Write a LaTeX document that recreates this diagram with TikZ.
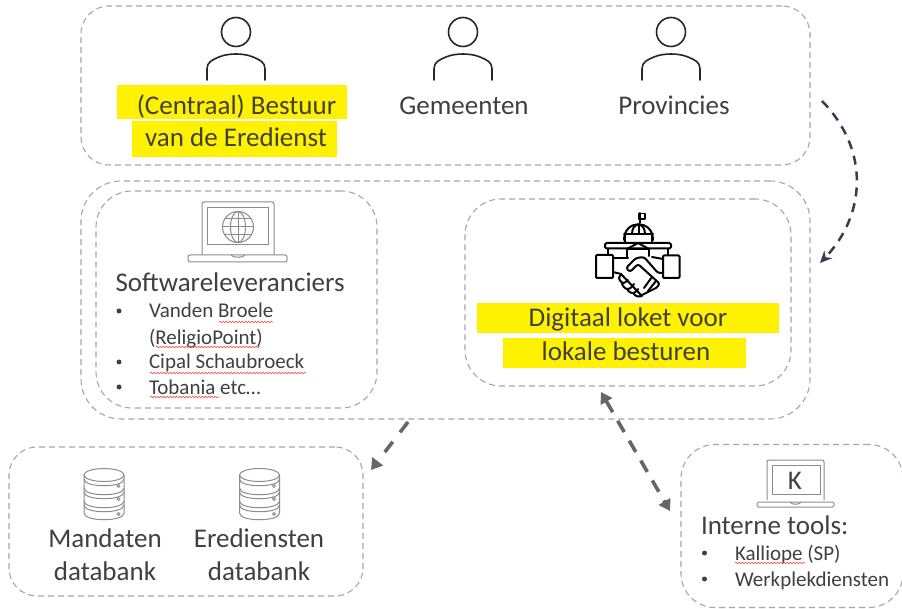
\documentclass[tikz,border=0pt]{standalone}
\usepackage{fontspec}
\setmainfont{Carlito}
\usetikzlibrary{arrows.meta,decorations.pathmorphing,positioning}
\definecolor{txt}{HTML}{404040}
\definecolor{boxc}{HTML}{A6A6A6}
\definecolor{hl}{HTML}{FFF200}
\definecolor{arr}{HTML}{666666}
\definecolor{navy}{HTML}{3B3A55}
\tikzset{
  x=1pt,y=-1pt,
  every node/.style={inner sep=0pt,outer sep=0pt,text=txt},
  group/.style={draw=boxc,dashed,dash pattern=on 6pt off 4pt,line width=1.1pt},
  big/.style={font=\fontsize{27}{27}\selectfont,anchor=base},
  bigl/.style={font=\fontsize{27}{27}\selectfont,anchor=base west},
  small/.style={font=\fontsize{21}{21}\selectfont,anchor=base west},
  bul/.style={fill=txt,circle,minimum size=5pt},
  wavy/.style={draw=red!75!white,line width=.55pt,decorate,decoration={snake,amplitude=.8pt,segment length=3.2pt}},
  hlbar/.style={fill=hl,draw=none},
  person/.style={draw=black!85,line width=1.6pt,line cap=round},
  thinicon/.style={draw=black!45,line width=1pt},
  shake/.style={draw=black,line width=2pt,line join=round,line cap=round},
  flow/.style={draw=arr,line width=3.6pt,dash pattern=on 13pt off 10pt},
}
\newcommand{\personicon}[1]{%
  \draw[person] (#1,32) circle (14.5);
  \draw[person] (#1-29,80) -- (#1-29,69) .. controls (#1-29,62) and (#1-24,60) .. (#1-17,57) .. controls (#1-8,53) and (#1+8,53) .. (#1+17,57) .. controls (#1+24,60) and (#1+29,62) .. (#1+29,69) -- (#1+29,80);
}
\newcommand{\dbicon}[1]{%
  \begin{scope}[thinicon]
  \draw (#1-20,475) -- (#1-20,513) .. controls (#1-20,522) and (#1+20,522) .. (#1+20,513) -- (#1+20,475);
  \draw (#1,475) ellipse (20 and 6.5);
  \draw (#1-20,479) .. controls (#1-20,488) and (#1+20,488) .. (#1+20,479);
  \draw (#1-20,488) .. controls (#1-20,497) and (#1+20,497) .. (#1+20,488);
  \draw (#1-20,492) .. controls (#1-20,501) and (#1+20,501) .. (#1+20,492);
  \draw (#1-20,501) .. controls (#1-20,510) and (#1+20,510) .. (#1+20,501);
  \draw (#1-20,505) .. controls (#1-20,514) and (#1+20,514) .. (#1+20,505);
  \draw (#1+14.5,486) circle (1.5);
  \draw (#1+14.5,499) circle (1.5);
  \draw (#1+14.5,514) circle (1.5);
  \end{scope}
}
\begin{document}
\begin{tikzpicture}
\useasboundingbox (0,0) rectangle (902,609);
\fill[white] (0,0) rectangle (902,609);

% group boxes
\node[group,rounded corners=28pt,minimum width=729pt,minimum height=159pt] (top) at (445.5,85.5) {};
\node[group,rounded corners=40pt,minimum width=729pt,minimum height=238pt] (mid) at (445.5,300) {};
\node[group,rounded corners=36pt,minimum width=281pt,minimum height=217pt] (soft) at (236.5,299.5) {};
\node[group,rounded corners=36pt,minimum width=326pt,minimum height=187pt] (loket) at (628,292.5) {};
\node[group,rounded corners=28pt,minimum width=354pt,minimum height=149pt] (db) at (186,521.5) {};
\begin{scope}
\clip (0,0) rectangle (902,609);
\node[group,rounded corners=34pt,minimum width=222pt,minimum height=163pt] (tools) at (792,526) {};
\end{scope}

% highlights
\fill[hlbar] (117,85) rectangle (347,119);
\fill[hlbar] (132,121) rectangle (337,157);
\fill[hlbar] (477,303) rectangle (779,333);
\fill[hlbar] (503,338) rectangle (746,368);

% persons
\personicon{236}
\personicon{463}
\personicon{671}

% top labels
\node[big] (bestuur) at (236.5,115) {(Centraal) Bestuur};
\node[big] (eredienst) at (236,147) {van de Eredienst};
\node[big] (gemeenten) at (464,115) {Gemeenten};
\node[big] (provincies) at (674,115) {Provincies};

% globe laptop
\begin{scope}[thinicon]
\draw[rounded corners=2pt] (202,255) -- (202,202) -- (274,202) -- (274,255);
\draw (207.5,208) rectangle (268,245);
\draw[rounded corners=2pt] (188,255) rectangle (287,262);
\draw (231,255) .. controls (232,258) and (244,258) .. (245,255);
\draw (238,227) circle (15.5);
\draw (238,227) ellipse (7.5 and 15.5);
\draw (238,211.5) -- (238,242.5);
\draw (222.5,227) -- (253.5,227);
\draw (225,219) -- (251,219);
\draw (225,235) -- (251,235);
\end{scope}

% software text
\node[bigl] (sw) at (115.5,292) {Softwareleveranciers};
\node[bul] (b1) at (119,311) {};
\node[bul] (b2) at (119,362) {};
\node[bul] (b3) at (119,387) {};
\node[small] (t1) at (149,318) {Vanden Broele};
\node[small] (t1b) at (149,345) {(ReligioPoint)};
\node[small] (t2) at (149,369) {Cipal Schaubroeck};
\node[small] (t3) at (149,394) {Tobania etc…};
\draw[wavy] (219,322) -- (273,322);
\draw[wavy] (156,347) -- (260,347);
\draw[wavy] (150,373) -- (306,373);
\draw[wavy] (150,397) -- (219,397);

% handshake / building icon
\begin{scope}[shake]
\draw (640,223) -- (640,213);
\draw[line width=1.6pt] (638.5,213.5) rectangle (645,219);
\draw (624,240) .. controls (624,219) and (653,219) .. (653,240);
\draw (624,234) -- (653,234);
\draw (632,234) .. controls (632,228) and (635,225) .. (638,224.5);
\draw (645,234) .. controls (645,228) and (642,225) .. (639,224.5);
\draw (638.5,224.5) -- (638.5,234);
\draw (625,234) -- (625,243);
\draw (652,234) -- (652,243);
\draw[rounded corners=1.5pt] (605,243) rectangle (671,248.5);
\draw (627,249) -- (638,243) -- (649,249);
\draw (627,249) -- (649,249);
\draw (627,249) -- (627,258);
\draw (649,249) -- (649,256);
\draw (608,249) -- (608,255);
\draw (668,249) -- (668,255);
\draw[rounded corners=1pt] (596,255) rectangle (613,278);
\draw[rounded corners=1pt] (663,255.5) rectangle (679.5,278);
\draw (613,258) -- (628,258);
\draw (652,257) -- (663,259);
% upper hand
\draw[rounded corners=2.5pt] (663,273) -- (658,273) -- (644,257) -- (636,258) -- (626,268) -- (630,272) -- (638,264) -- (660,284) -- (656,288);
\draw (656,288) -- (640,296);
\draw (652,277) -- (644,288);
\draw (656,281) -- (648,291);
% lower hand
\draw (613,272) -- (621,274) -- (641,295);
\draw[rounded corners=2.5pt] (621,275) -- (618,278) -- (623,284) -- (628,280);
\draw[rounded corners=2.5pt] (622,284) -- (625,289) -- (630,289) -- (634,284);
\draw[rounded corners=2.5pt] (627,289) -- (630,293) -- (635,293) -- (638,289);
\draw[rounded corners=2.5pt] (633,293) -- (637,297) -- (642,296);
\end{scope}

\node[big] (dig1) at (628,326.5) {Digitaal loket voor};
\node[big] (dig2) at (626,360) {lokale besturen};

% databases
\dbicon{104}
\dbicon{259.5}
\node[big] (m1) at (105,547.5) {Mandaten};
\node[big] (m2) at (105,580.5) {databank};
\node[big] (e1) at (259,547.5) {Erediensten};
\node[big] (e2) at (259,580.5) {databank};

% K laptop
\begin{scope}[thinicon]
\draw[rounded corners=2pt] (767,500) -- (767,460) -- (824,460) -- (824,500);
\draw (772,465) rectangle (820,494);
\draw[rounded corners=1.5pt] (757,502) rectangle (834,507);
\draw (790,502) .. controls (791,505) and (800,505) .. (801,502);
\end{scope}
\node[font=\fontsize{27}{27}\selectfont] (k) at (795,481) {K};
\node[bigl] (it) at (701,534) {Interne tools:};
\node[bul] (b4) at (704.5,553) {};
\node[bul] (b5) at (704.5,579) {};
\node[small] (t4) at (735,560) {Kalliope (SP)};
\node[small] (t5) at (735,586) {Werkplekdiensten};
\draw[wavy] (735,563) -- (805,563);

% connectors
\coordinate (c1) at (822,101);
\coordinate (c2) at (820,263);
\draw[navy,line width=2.5pt,dash pattern=on 9pt off 7pt,-{Stealth[length=12pt,width=11pt,inset=4pt]}] (c1) .. controls (870,150) and (866,215) .. (c2);
\coordinate (d1) at (408,422);
\coordinate (d2) at (371,470);
\draw[flow,dash pattern=on 13pt off 12pt,-{Triangle[length=11pt,width=13pt]}] (d1) -- (d2);
\coordinate (e1a) at (601,392);
\coordinate (e2a) at (670,511);
\draw[flow,{Triangle[length=11pt,width=13pt]}-{Triangle[length=11pt,width=13pt]}] (e1a) -- (e2a);
\end{tikzpicture}
\end{document}
